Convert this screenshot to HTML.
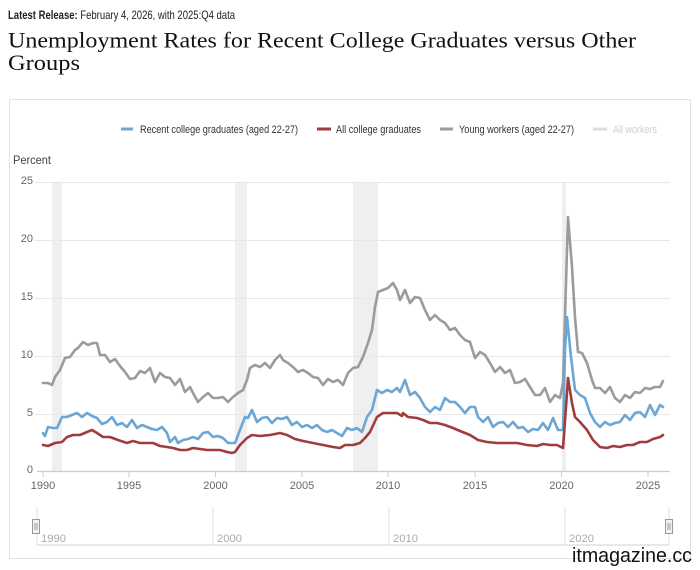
<!DOCTYPE html>
<html>
<head>
<meta charset="utf-8">
<style>
html,body{margin:0;padding:0;background:#fff;}
svg{display:block;}
</style>
</head>
<body>
<svg width="700" height="570" viewBox="0 0 700 570" xmlns="http://www.w3.org/2000/svg">
<rect x="0" y="0" width="700" height="570" fill="#fff"/>
<!-- header -->
<text x="8" y="19" font-family="Liberation Sans, Arial, sans-serif" font-size="12" fill="#222" textLength="227" lengthAdjust="spacingAndGlyphs"><tspan font-weight="bold">Latest Release:</tspan> February 4, 2026, with 2025:Q4 data</text>
<text x="8" y="47.5" font-family="Liberation Serif, Times New Roman, serif" font-size="22" fill="#111" textLength="628" lengthAdjust="spacingAndGlyphs">Unemployment Rates for Recent College Graduates versus Other</text>
<text x="8" y="70" font-family="Liberation Serif, Times New Roman, serif" font-size="22" fill="#111" textLength="72" lengthAdjust="spacingAndGlyphs">Groups</text>

<!-- card -->
<rect x="9.5" y="99.5" width="681" height="459" fill="#fff" stroke="#e2e2e2" stroke-width="1"/>

<!-- legend -->
<g font-family="Liberation Sans, Arial, sans-serif" font-size="11">
<line x1="121" y1="129" x2="133" y2="129" stroke="#6ca6d4" stroke-width="3"/>
<text x="140" y="133" fill="#333" textLength="158" lengthAdjust="spacingAndGlyphs">Recent college graduates (aged 22-27)</text>
<line x1="317" y1="129" x2="331" y2="129" stroke="#a03c3c" stroke-width="3"/>
<text x="336" y="133" fill="#333" textLength="85" lengthAdjust="spacingAndGlyphs">All college graduates</text>
<line x1="440" y1="129" x2="453" y2="129" stroke="#9b9b9b" stroke-width="3"/>
<text x="459" y="133" fill="#333" textLength="115" lengthAdjust="spacingAndGlyphs">Young workers (aged 22-27)</text>
<line x1="593" y1="129" x2="607" y2="129" stroke="#dcdcdc" stroke-width="3"/>
<text x="613" y="133" fill="#cfcfcf" textLength="44" lengthAdjust="spacingAndGlyphs">All workers</text>
</g>

<!-- Percent label -->
<text x="13" y="164" font-family="Liberation Sans, Arial, sans-serif" font-size="11.5" fill="#444" textLength="38" lengthAdjust="spacingAndGlyphs">Percent</text>

<!-- recession bands -->
<g fill="#efefef">
<rect x="52" y="182" width="10" height="290"/>
<rect x="235" y="182" width="12" height="290"/>
<rect x="353" y="182" width="25" height="290"/>
<rect x="562" y="182" width="4" height="290"/>
</g>

<!-- gridlines -->
<g stroke="#e8e8e8" stroke-width="1">
<line x1="35" y1="182.5" x2="670" y2="182.5"/>
<line x1="35" y1="240.5" x2="670" y2="240.5"/>
<line x1="35" y1="298.5" x2="670" y2="298.5"/>
<line x1="35" y1="356.5" x2="670" y2="356.5"/>
<line x1="35" y1="414.5" x2="670" y2="414.5"/>
</g>

<!-- y labels -->
<g font-family="Liberation Sans, Arial, sans-serif" font-size="11" fill="#666" text-anchor="end">
<text x="33" y="184">25</text>
<text x="33" y="242">20</text>
<text x="33" y="300">15</text>
<text x="33" y="358">10</text>
<text x="33" y="416">5</text>
<text x="33" y="473">0</text>
</g>

<!-- x axis -->
<line x1="37" y1="471.5" x2="670" y2="471.5" stroke="#cccccc" stroke-width="1.2"/>
<g stroke="#cccccc" stroke-width="1">
<line x1="43" y1="472" x2="43" y2="477"/>
<line x1="129" y1="472" x2="129" y2="477"/>
<line x1="215.5" y1="472" x2="215.5" y2="477"/>
<line x1="302" y1="472" x2="302" y2="477"/>
<line x1="388" y1="472" x2="388" y2="477"/>
<line x1="475" y1="472" x2="475" y2="477"/>
<line x1="561.5" y1="472" x2="561.5" y2="477"/>
<line x1="648" y1="472" x2="648" y2="477"/>
</g>
<g font-family="Liberation Sans, Arial, sans-serif" font-size="11" fill="#666" text-anchor="middle">
<text x="43" y="489">1990</text>
<text x="129" y="489">1995</text>
<text x="215.5" y="489">2000</text>
<text x="302" y="489">2005</text>
<text x="388" y="489">2010</text>
<text x="475" y="489">2015</text>
<text x="561.5" y="489">2020</text>
<text x="648" y="489">2025</text>
</g>

<!-- series -->
<g fill="none" stroke-width="2.6" stroke-linejoin="round" stroke-linecap="round">
<polyline stroke="#9b9b9b" points="43,383 48,383 52,385 55,377 60,370 65,358 70,357 75,350 78,348 83,342 88,345 93,343 97,343 100,355 105,355 110,362 115,359 120,366 125,372 130,379 135,378 140,371 145,373 150,368 155,382 160,373 165,377 170,378 175,385 180,379 185,392 190,387 193,393 198,402 203,397 208,393 213,398 218,398 223,397 228,402 233,397 238,393 243,390 247,380 250,368 255,365 260,367 265,363 270,368 275,360 280,355 283,360 288,363 293,367 298,372 303,370 308,373 313,377 318,378 323,385 328,379 333,382 338,380 343,385 348,373 353,368 358,367 363,357 368,343 372,330 375,307 378,292 383,290 388,288 393,283 397,290 400,300 405,290 410,303 415,297 420,298 425,310 430,320 435,315 440,320 445,323 450,330 455,328 460,335 465,340 470,342 475,358 480,352 485,355 490,363 495,372 500,367 505,373 510,370 515,383 520,382 525,379 530,387 535,395 540,395 545,388 550,402 555,395 560,398 563,383 566,283 568,217 572,267 575,317 578,352 582,353 587,363 592,380 595,388 600,388 605,393 610,387 615,398 620,402 625,395 630,398 635,392 640,393 645,388 650,389 655,387 660,387 663,381"/>
<polyline stroke="#6ca6d4" points="43,433 45,436 48,427 53,428 57,428 62,417 67,417 72,415 77,413 82,417 87,413 92,416 97,418 102,424 107,422 112,417 117,425 122,423 127,427 132,420 137,428 142,425 147,427 152,429 157,430 162,427 167,433 170,442 175,437 178,443 183,440 188,439 193,437 198,439 203,433 208,432 213,437 218,436 223,438 228,443 235,443 240,430 245,417 248,418 252,410 257,422 262,418 267,417 272,423 277,418 282,419 287,417 292,425 297,422 302,427 307,425 312,428 317,425 322,430 327,432 332,430 337,433 342,436 347,428 352,430 357,428 362,432 367,417 372,410 377,390 382,393 387,390 392,392 397,388 400,392 405,380 410,395 415,392 420,398 425,407 430,412 435,407 440,410 445,398 450,402 455,402 460,407 465,413 470,407 475,407 478,417 483,422 488,417 493,427 498,423 503,422 508,427 513,422 518,428 523,427 528,432 533,429 538,430 543,423 548,430 553,418 558,430 563,430 565,350 567,317 571,357 575,390 580,395 585,398 590,413 595,422 600,427 605,422 610,425 615,423 620,422 625,415 630,420 635,413 640,412 645,417 650,405 655,415 660,405 663,407"/>
<polyline stroke="#a03c3c" points="43,445 48,446 55,443 62,442 67,437 73,435 80,435 87,432 92,430 97,433 103,437 110,437 118,440 127,443 133,441 140,443 147,443 153,443 160,446 167,447 173,448 180,450 187,450 193,448 200,449 207,450 213,450 220,450 227,452 232,453 235,452 240,445 247,438 252,435 260,436 270,435 280,433 287,435 295,439 303,441 313,443 323,445 333,447 340,448 345,445 353,445 360,443 365,438 370,432 377,417 383,413 390,413 397,413 402,416 403,413 408,417 417,418 423,420 430,423 437,423 445,425 453,428 460,431 470,435 478,440 487,442 497,443 507,443 517,443 527,445 537,446 543,444 550,445 557,445 563,448 566,407 568,378 572,403 575,417 580,422 587,430 593,440 600,447 607,448 613,446 620,447 627,445 633,445 640,442 647,442 653,439 660,437 663,435"/>
</g>

<!-- navigator -->
<g stroke="#e0e0e0" stroke-width="1">
<line x1="37" y1="507" x2="37" y2="545"/>
<line x1="213" y1="507" x2="213" y2="545"/>
<line x1="389" y1="507" x2="389" y2="545"/>
<line x1="565" y1="507" x2="565" y2="545"/>
<line x1="669" y1="507" x2="669" y2="545"/>
</g>
<line x1="37" y1="545" x2="669" y2="545" stroke="#d0d0d0" stroke-width="1"/>
<g font-family="Liberation Sans, Arial, sans-serif" font-size="11" fill="#aaa">
<text x="41" y="542" textLength="25" lengthAdjust="spacingAndGlyphs">1990</text>
<text x="217" y="542" textLength="25" lengthAdjust="spacingAndGlyphs">2000</text>
<text x="393" y="542" textLength="25" lengthAdjust="spacingAndGlyphs">2010</text>
<text x="569" y="542" textLength="25" lengthAdjust="spacingAndGlyphs">2020</text>
</g>
<g stroke="#999" stroke-width="1">
<rect x="32.5" y="519.5" width="7" height="14" fill="#f2f2f2"/>
<line x1="35" y1="523" x2="35" y2="530"/>
<line x1="37" y1="523" x2="37" y2="530"/>
<rect x="665.5" y="519.5" width="7" height="14" fill="#f2f2f2"/>
<line x1="668" y1="523" x2="668" y2="530"/>
<line x1="670" y1="523" x2="670" y2="530"/>
</g>

<!-- watermark -->
<text x="572" y="562" font-family="Liberation Sans, Arial, sans-serif" font-size="20" fill="#111" stroke="#fff" stroke-width="0.6" paint-order="stroke" textLength="120" lengthAdjust="spacingAndGlyphs">itmagazine.cc</text>
</svg>
</body>
</html>
